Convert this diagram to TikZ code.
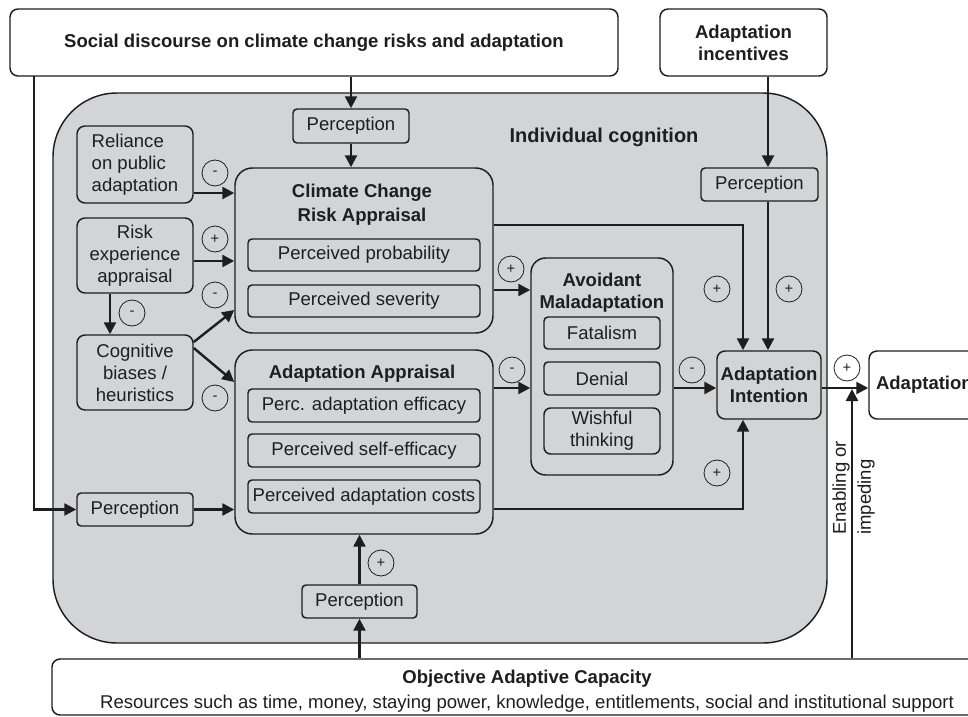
\documentclass[tikz,border=0pt]{standalone}
\usepackage{fontspec}
\setmainfont{Liberation Sans}
\usetikzlibrary{arrows.meta}
\definecolor{ink}{HTML}{1E1E1E}
\definecolor{cgray}{HTML}{D3D4D6}
\newcommand\dgsz{\fontsize{13.9}{16.5}\selectfont}
\tikzset{
  span/.style n args={4}{minimum width=(#3-#1)*0.75pt, minimum height=(#4-#2)*0.75pt, at={({(#1+#3)/2},{(#2+#4)/2})}},
  box/.style={draw=ink, line width=1.1pt, rounded corners=3pt, inner sep=0pt, anchor=center},
  wbox/.style={box, fill=white, rounded corners=6pt},
  ibox/.style={box, rounded corners=6pt},
  bigbox/.style={box, rounded corners=13pt},
  arr/.style={draw=ink, line width=1.8pt, -{Triangle[length=9pt,width=9pt]}},
  sg/.style={circle, draw=ink, line width=0.6pt, minimum size=19.5pt, inner sep=0pt, font=\fontsize{11}{11}\selectfont},
  ttl/.style={font=\dgsz\bfseries, align=center},
}
\begin{document}
\begin{tikzpicture}[x=0.75pt,y=-0.75pt, font=\dgsz, text=ink]
\useasboundingbox (0,0) rectangle (968,717);
\clip (0,0) rectangle (968,717);
\fill[white] (0,0) rectangle (968,717);

% outer boxes
\node[wbox, span={10}{9}{618}{76}, font=\dgsz\bfseries] (soc) {Social discourse on climate change risks and adaptation};
\node[wbox, span={660}{9}{827}{76}, ttl] (inc) {Adaptation\\incentives};
\node[box, fill=cgray, rounded corners=48pt, span={53}{93}{827}{643}] (cog) {};
\node[font=\fontsize{15}{18}\selectfont\bfseries] (cogt) at (604,137) {Individual cognition};
\node[wbox, span={52}{659}{1002}{715}, align=center, font=\fontsize{13.9}{18.75}\selectfont] (obj)
  {\rule{0pt}{16pt}\textbf{Objective Adaptive Capacity}\\Resources such as time, money, staying power, knowledge, entitlements, social and institutional support};
\node[wbox, span={869}{351}{1000}{419}, text width=117*0.75pt, align=left, font=\dgsz\bfseries] (ad) {Adaptation};

% left column
\node[box, span={293}{109}{409}{143}] (p1) {Perception};
\node[ibox, span={77}{126}{193}{203}, align=left] (rel) {Reliance\\on public\\adaptation};
\node[ibox, span={77}{218}{193}{293}, align=center] (risk) {Risk\\experience\\appraisal};
\node[ibox, span={77}{335}{193}{410}, align=center] (bias) {Cognitive\\biases /\\heuristics};
\node[box, span={77}{493}{193}{526}] (p2) {Perception};
\node[box, span={302}{585}{417}{618}] (p3) {Perception};

% climate change risk appraisal
\node[bigbox, span={235}{168}{493}{333}] (ccra) {};
\node[ttl, font=\fontsize{13.9}{18}\selectfont\bfseries] (ccrat) at (362,205) {Climate Change\\Risk Appraisal};
\node[box, span={248}{239}{480}{271}] (pp) {Perceived probability};
\node[box, span={248}{285}{480}{317}] (ps) {Perceived severity};

% adaptation appraisal
\node[bigbox, span={235}{350}{493}{534}] (aa) {};
\node[ttl] (aat) at (362,374) {Adaptation Appraisal};
\node[box, span={248}{389}{480}{422}] (pae) {Perc. adaptation efficacy};
\node[box, span={248}{434}{480}{467}] (pse) {Perceived self-efficacy};
\node[box, span={248}{480}{480}{513}] (pac) {Perceived adaptation costs};

% avoidant maladaptation
\node[bigbox, rounded corners=11pt, span={531}{258}{673}{475}] (am) {};
\node[ttl] (amt) at (602,293) {Avoidant\\Maladaptation};
\node[box, span={544}{317}{660}{349}] (fat) {Fatalism};
\node[box, span={544}{362}{660}{395}] (den) {Denial};
\node[box, rounded corners=5pt, span={544}{408}{660}{454}, align=center] (wish) {Wishful\\thinking};

% intention
\node[ibox, span={717}{351}{821}{419}, ttl] (ai) {Adaptation\\Intention};
\node[box, span={701}{168}{818}{201}] (p4) {Perception};

% connectors
\draw[arr] (p1.north |- soc.south) -- (p1.north);
\draw[arr] (p1.south) -- (p1.south |- ccra.north);
\coordinate (lft) at (34,76);
\draw[arr] (lft) |- (p2.west);
\draw[arr] (p2.east) -- (p2.east -| aa.west);
\draw[arr] (p3.south |- obj.north) -- (p3.south);
\draw[arr] (p3.north) -- (p3.north |- aa.south);
\draw[arr] (rel.east |- 0,193) -- (ccra.west |- 0,193);
\draw[arr] (risk.east |- 0,261) -- (ccra.west |- 0,261);
\draw[arr] (risk.south -| 110,0) -- (bias.north -| 110,0);
\draw[arr] (bias.east |- 0,342) -- (ccra.west |- 0,310);
\draw[arr] (bias.east |- 0,348) -- (aa.west |- 0,382);
\draw[arr] (ccra.east |- 0,290) -- (am.west |- 0,290);
\draw[arr] (aa.east |- 0,388) -- (am.west |- 0,388);
\draw[arr] (am.east |- 0,388) -- (ai.west |- 0,388);
\draw[arr] (ccra.east |- 0,225) -| (ai.north -| 743,0);
\draw[arr] (inc.south -| 768,0) -- (p4.north -| 768,0);
\draw[arr] (p4.south -| 768,0) -- (ai.north -| 768,0);
\draw[arr] (aa.east |- 0,509) -| (ai.south -| 743,0);
\draw[arr] (ai.east |- 0,388) -- (ad.west |- 0,388);
\coordinate (jn) at (852,389);
\draw[arr] (obj.north -| jn) -- (jn);
\node[rotate=90, anchor=west, align=left, inner sep=0pt, font=\fontsize{13.9}{18.75}\selectfont] (enab) at (853.5,535) {Enabling or\\impeding};

% signs
\node[sg] (s1) at (215,173) {-};
\node[sg] (s2) at (215,239) {+};
\node[sg] (s3) at (215,295) {-};
\node[sg] (s4) at (215,398) {-};
\node[sg] (s5) at (132,313) {-};
\node[sg] (s6) at (511,269) {+};
\node[sg] (s7) at (512,370) {-};
\node[sg] (s8) at (692,370) {-};
\node[sg] (s9) at (717,289) {+};
\node[sg] (s10) at (789,289) {+};
\node[sg] (s11) at (717,473) {+};
\node[sg] (s12) at (847,368) {+};
\node[sg] (s13) at (381,563) {+};
\end{tikzpicture}
\end{document}
